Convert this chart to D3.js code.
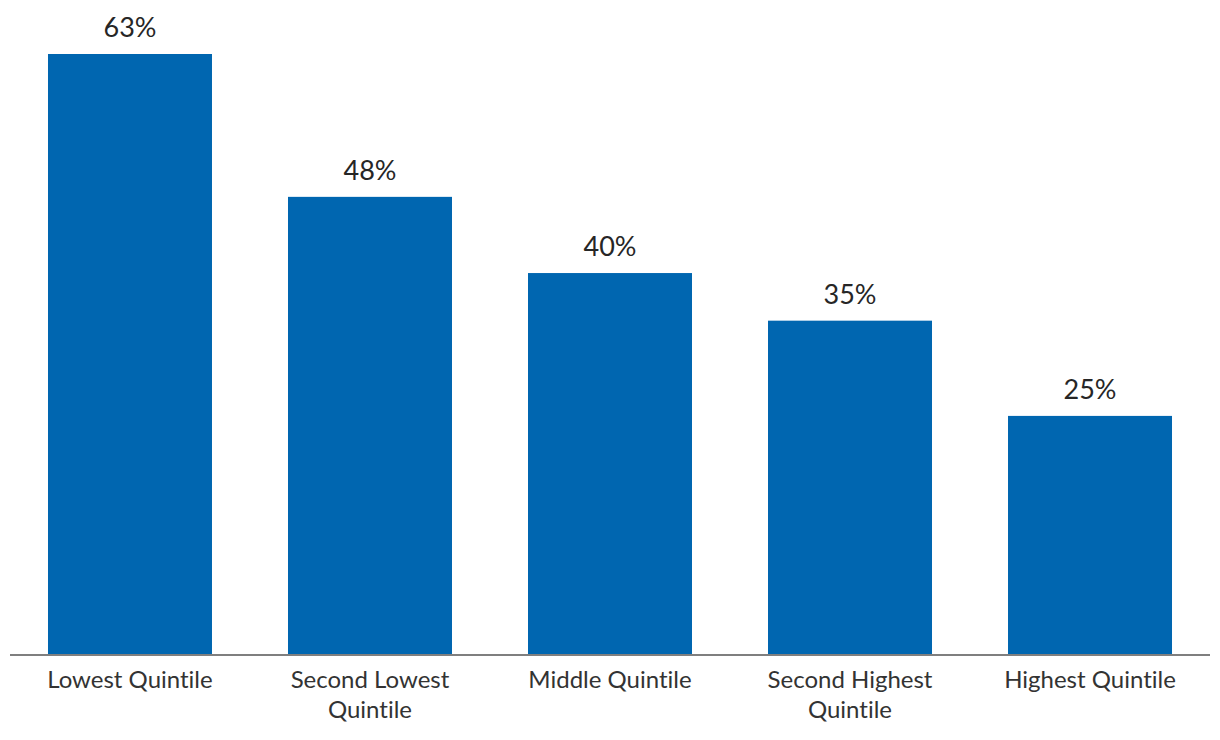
<!DOCTYPE html>
<html><head><meta charset="utf-8">
<script src="https://cdn.jsdelivr.net/npm/d3@7"></script>
<style>body{margin:0;background:#fff;} text{font-family:Lato,"Open Sans",sans-serif;font-variant-ligatures:none;}</style>
</head><body>
<svg id="c" width="1220" height="740"></svg>
<script>
const categories = ["Lowest Quintile", "Second Lowest Quintile", "Middle Quintile", "Second Highest Quintile", "Highest Quintile"];
const categoryLines = [["Lowest Quintile"], ["Second Lowest", "Quintile"], ["Middle Quintile"], ["Second Highest", "Quintile"], ["Highest Quintile"]];
const values = [63, 48, 40, 35, 25];

const svg = d3.select("#c");
const x = d3.scaleBand().domain(categories).range([10, 1210]).paddingInner(0.3167).paddingOuter(0.1583);
const y = d3.scaleLinear().domain([0, 63]).range([654, 54]);

svg.selectAll("rect.bar").data(values).enter().append("rect")
  .attr("class", "bar")
  .attr("x", (d, i) => x(categories[i]))
  .attr("width", x.bandwidth())
  .attr("y", d => y(d))
  .attr("height", d => y(0) - y(d))
  .attr("fill", "#0066b0");

svg.selectAll("text.val").data(values).enter().append("text")
  .attr("class", "val")
  .attr("x", (d, i) => x(categories[i]) + x.bandwidth() / 2)
  .attr("y", d => y(d) - 17)
  .attr("text-anchor", "middle")
  .attr("font-size", 27)
  .attr("fill", "#262626")
  .text(d => d + "%");

svg.append("line")
  .attr("x1", 10).attr("x2", 1210)
  .attr("y1", y(0) + 1).attr("y2", y(0) + 1)
  .attr("stroke", "#7f7f7f").attr("stroke-width", 2);

const lab = svg.selectAll("text.cat").data(categories).enter().append("text")
  .attr("class", "cat")
  .attr("text-anchor", "middle")
  .attr("font-size", 24)
  .attr("fill", "#333333");
lab.each(function(d, i) {
  const t = d3.select(this);
  categoryLines[i].forEach((ln, j) => {
    t.append("tspan")
      .attr("x", x(d) + x.bandwidth() / 2)
      .attr("y", 688 + j * 30)
      .text(ln);
  });
});
</script>
</body></html>
